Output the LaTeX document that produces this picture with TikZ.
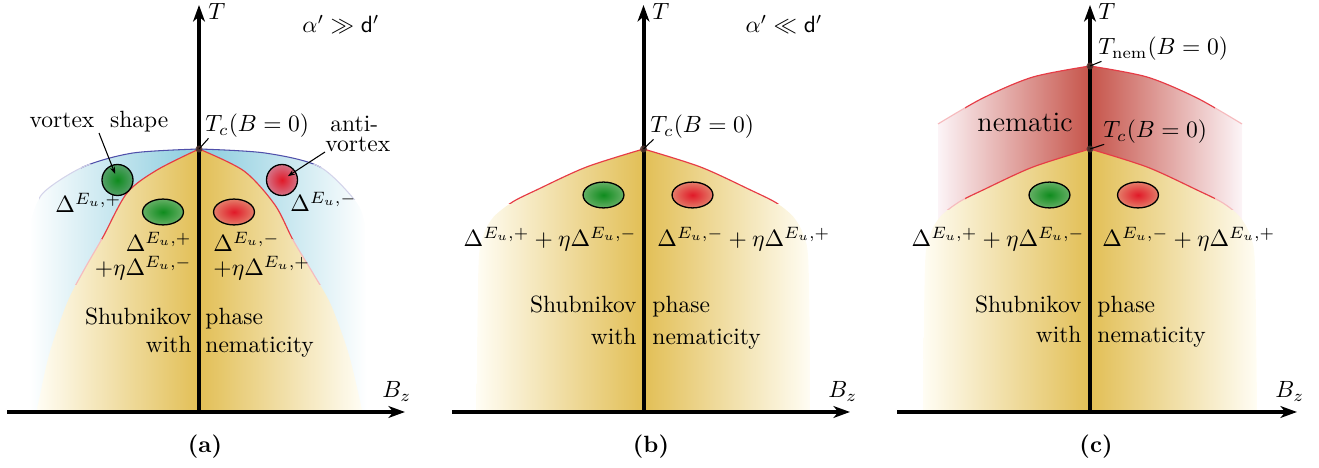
\documentclass[tikz,border=0pt]{standalone}
\usetikzlibrary{arrows.meta,shapes.geometric}
\definecolor{gold}{RGB}{226,191,86}
\definecolor{cream}{RGB}{255,253,244}
\definecolor{skyb}{RGB}{138,204,222}
\definecolor{nemred}{RGB}{198,84,74}
\definecolor{nempale}{RGB}{252,244,247}
\definecolor{edgered}{RGB}{230,60,70}
\definecolor{blueline}{RGB}{80,80,170}
\definecolor{gin}{RGB}{15,140,30}
\definecolor{gout}{RGB}{100,175,100}
\definecolor{rin}{RGB}{225,25,40}
\definecolor{rout}{RGB}{228,125,105}
\definecolor{vgout}{RGB}{85,160,105}
\definecolor{vrout}{RGB}{212,115,135}
\definecolor{dotcol}{RGB}{80,50,45}
\begin{document}
\begin{tikzpicture}[x=0.4255pt,y=-0.4255pt,
  every node/.style={inner sep=0pt},
  axisarrow/.style={line width=1.7pt,-{Stealth[length=7pt,width=5pt,inset=2pt]}},
  leaderline/.style={line width=0.45pt},
  pointer/.style={line width=0.45pt,-{Stealth[length=3pt,width=2.2pt]}},
  tdot/.style={circle,fill=dotcol,fill opacity=.85,minimum size=3pt},
  gell/.style={ellipse,draw=black,line width=0.55pt,inner color=gin,outer color=gout,minimum width=17.4pt,minimum height=11pt},
  rell/.style={ellipse,draw=black,line width=0.55pt,inner color=rin,outer color=rout,minimum width=17.4pt,minimum height=11pt},
  gvort/.style={circle,draw=black,line width=0.55pt,inner color=gin,outer color=vgout,minimum size=13.2pt},
  rvort/.style={circle,draw=black,line width=0.55pt,inner color=rin,outer color=vrout,minimum size=13.2pt},
  redge/.style={draw=edgered,line width=0.5pt},
  fedge/.style={draw=edgered!35,line width=0.5pt},
  capt/.style={font=\bfseries}]
\useasboundingbox (0,0) rectangle (1319,468);

% ===================== panel (a) =====================
\begin{scope}[shift={(199,0)}]
  \shade[left color=white,right color=skyb] plot[smooth] coordinates {(0,149)(-66,153)(-116,167)(-156,193)(-168,220)} -- (-170,410) -- (0,410) -- cycle;
  \shade[left color=skyb,right color=white] plot[smooth] coordinates {(0,149)(66,153)(121,167)(158,203)(166,225)} -- (168,410) -- (0,410) -- cycle;
  \shade[left color=cream,right color=gold] plot[smooth] coordinates {(0,149)(-42,170)(-72,193)(-96,237)(-115,270)(-132,303)(-150,355)(-162,410)} -- (0,410) -- cycle;
  \shade[left color=gold,right color=cream] plot[smooth] coordinates {(0,149)(45,171)(76,205)(94,240)(115,275)(132,305)(150,355)(163,410)} -- (0,410) -- cycle;
  \begin{scope}
    \clip (-200,140) rectangle (200,240);
    \draw[redge] plot[smooth] coordinates {(0,149)(-42,170)(-72,193)(-96,237)(-115,270)(-132,303)(-150,355)(-162,410)};
    \draw[redge] plot[smooth] coordinates {(0,149)(45,171)(76,205)(94,240)(115,275)(132,305)(150,355)(163,410)};
  \end{scope}
  \begin{scope}
    \clip (-200,240) rectangle (200,285);
    \draw[fedge] plot[smooth] coordinates {(0,149)(-42,170)(-72,193)(-96,237)(-115,270)(-132,303)(-150,355)(-162,410)};
    \draw[fedge] plot[smooth] coordinates {(0,149)(45,171)(76,205)(94,240)(115,275)(132,305)(150,355)(163,410)};
  \end{scope}
  \begin{scope}
    \clip (-118,140) rectangle (122,170);
    \draw[blueline,line width=0.45pt] plot[smooth] coordinates {(0,149)(-66,153)(-116,167)(-156,193)(-168,220)};
    \draw[blueline,line width=0.45pt] plot[smooth] coordinates {(0,149)(66,153)(121,167)(158,203)(166,225)};
  \end{scope}
  \begin{scope}
    \clip (-160,165) rectangle (160,200);
    \draw[blueline!25,line width=0.45pt] plot[smooth] coordinates {(0,149)(-66,153)(-116,167)(-156,193)(-168,220)};
    \draw[blueline!25,line width=0.45pt] plot[smooth] coordinates {(0,149)(66,153)(121,167)(158,203)(166,225)};
  \end{scope}
  \node[gell] (ga) at (-36,212) {};
  \node[rell] (ra) at (35,212) {};
  \node[gvort] (gv) at (-81.5,180) {};
  \node[rvort] (rv) at (83,180) {};
  \coordinate (ax1) at (-192,412); \coordinate (ax2) at (206,412);
  \coordinate (ay1) at (0,412); \coordinate (ay2) at (0,5);
  \draw[axisarrow] (ax1) -- (ax2);
  \draw[axisarrow] (ay1) -- (ay2);
  \node[tdot] (tca) at (0,149) {};
  \node[anchor=base west] (Ta) at (9,20) {$T$};
  \node[anchor=base west] (Ba) at (183,398) {$B_z$};
  \node[anchor=base] (ala) at (142,33) {$\alpha'\gg\mathsf{d}'$};
  \node[anchor=base west] (tcla) at (6,132) {$T_c(B=0)$};
  \draw[leaderline] (tca.center) -- ([xshift=1.5pt]tcla.south west);
  \node[anchor=base] (vs) at (-100,128) {vortex\ \ shape};
  \draw[pointer,shorten >=2.8pt] (vs.south) -- (gv.center);
  \node[anchor=base west] (anti) at (131,132) {anti-};
  \node[anchor=base west] (avx) at (126,152) {vortex};
  \draw[pointer,shorten >=3pt] (avx.base west) -- (rv.center);
  \node[anchor=base west] (dpa) at (-144,213) {$\Delta^{E_u,+}$};
  \node[anchor=base west] (dma) at (91,212) {$\Delta^{E_u,-}$};
  \node[anchor=base east] (l1a) at (-7,252) {$\Delta^{E_u,+}$};
  \node[anchor=base east] (l2a) at (-7,276) {$+\eta\Delta^{E_u,-}$};
  \node[anchor=base west] (r1a) at (14,252) {$\Delta^{E_u,-}$};
  \node[anchor=base west] (r2a) at (14,276) {$+\eta\Delta^{E_u,+}$};
  \node[anchor=base east] (sha) at (-7,325) {Shubnikov};
  \node[anchor=base east] (wia) at (-7,353) {with};
  \node[anchor=base west] (pha) at (6,325) {phase};
  \node[anchor=base west] (nea) at (6,353) {nematicity};
  \node[capt] (capa) at (6,447) {(a)};
\end{scope}

% ===================== panel (b) =====================
\begin{scope}[shift={(643.5,0)}]
  \shade[left color=cream,right color=gold] plot[smooth] coordinates {(0,149)(-57,167)(-107,190)(-131,202)(-150,217)(-160,235)(-165,265)(-167,410)} -- (0,410) -- cycle;
  \shade[left color=gold,right color=cream] plot[smooth] coordinates {(0,149)(57,167)(107,190)(133,203)(150,217)(160,235)(165,265)(167,410)} -- (0,410) -- cycle;
  \begin{scope}
    \clip (-200,140) rectangle (200,204);
    \draw[redge] plot[smooth] coordinates {(0,149)(-57,167)(-107,190)(-131,202)(-150,217)(-160,235)(-165,265)(-167,410)};
    \draw[redge] plot[smooth] coordinates {(0,149)(57,167)(107,190)(133,203)(150,217)(160,235)(165,265)(167,410)};
  \end{scope}
  \node[gell] (gb) at (-40,195) {};
  \node[rell] (rb) at (49,195) {};
  \coordinate (bx1) at (-191.5,412); \coordinate (bx2) at (206.5,412);
  \coordinate (by1) at (0,412); \coordinate (by2) at (0,5);
  \draw[axisarrow] (bx1) -- (bx2);
  \draw[axisarrow] (by1) -- (by2);
  \node[tdot] (tcb) at (0,149) {};
  \node[anchor=base west] (Tb) at (8.5,20) {$T$};
  \node[anchor=base west] (Bb) at (184.5,398) {$B_z$};
  \node[anchor=base] (alb) at (140.5,33) {$\alpha'\ll\mathsf{d}'$};
  \node[anchor=base west] (tclb) at (6.5,133) {$T_c(B=0)$};
  \draw[leaderline] (tcb.center) -- ([xshift=1.5pt]tclb.south west);
  \node[anchor=base east] (lb) at (-6.5,247) {$\Delta^{E_u,+}+\eta\Delta^{E_u,-}$};
  \node[anchor=base west] (rbl) at (13.5,247) {$\Delta^{E_u,-}+\eta\Delta^{E_u,+}$};
  \node[anchor=base east] (shb) at (-6.5,313) {Shubnikov};
  \node[anchor=base east] (wib) at (-6.5,345) {with};
  \node[anchor=base west] (phb) at (8.5,313) {phase};
  \node[anchor=base west] (neb) at (8.5,345) {nematicity};
  \node[capt] (capb) at (7.5,447) {(b)};
\end{scope}

% ===================== panel (c) =====================
\begin{scope}[shift={(1090,0)}]
  \shade[left color=nempale,right color=nemred] plot[smooth] coordinates {(0,66)(-57,77)(-107,98)(-152,124)} -- (-152,245) -- (0,245) -- cycle;
  \shade[left color=nemred,right color=nempale] plot[smooth] coordinates {(0,66)(57,77)(107,98)(152,124)} -- (152,245) -- (0,245) -- cycle;
  \shade[left color=cream,right color=gold] plot[smooth] coordinates {(0,149)(-57,167)(-107,190)(-131,202)(-150,217)(-160,235)(-165,265)(-167,410)} -- (0,410) -- cycle;
  \shade[left color=gold,right color=cream] plot[smooth] coordinates {(0,149)(57,167)(107,190)(133,203)(150,217)(160,235)(165,265)(167,410)} -- (0,410) -- cycle;
  \begin{scope}
    \clip (-125,40) rectangle (125,210);
    \draw[redge] plot[smooth] coordinates {(0,66)(-57,77)(-107,98)(-152,124)};
    \draw[redge] plot[smooth] coordinates {(0,66)(57,77)(107,98)(152,124)};
    \draw[redge] plot[smooth] coordinates {(0,149)(-57,167)(-107,190)(-131,202)(-150,217)(-160,235)(-165,265)(-167,410)};
    \draw[redge] plot[smooth] coordinates {(0,149)(57,167)(107,190)(133,203)(150,217)(160,235)(165,265)(167,410)};
  \end{scope}
  \begin{scope}
    \clip (-200,40) rectangle (-125,210) (125,40) rectangle (200,210);
    \draw[fedge] plot[smooth] coordinates {(0,66)(-57,77)(-107,98)(-152,124)};
    \draw[fedge] plot[smooth] coordinates {(0,66)(57,77)(107,98)(152,124)};
    \draw[fedge] plot[smooth] coordinates {(0,149)(-57,167)(-107,190)(-131,202)(-150,217)(-160,235)(-165,265)(-167,410)};
    \draw[fedge] plot[smooth] coordinates {(0,149)(57,167)(107,190)(133,203)(150,217)(160,235)(165,265)(167,410)};
  \end{scope}
  \node[gell] (gc) at (-40.5,195) {};
  \node[rell] (rc) at (48,195) {};
  \coordinate (cx1) at (-193,412); \coordinate (cx2) at (207,412);
  \coordinate (cy1) at (0,412); \coordinate (cy2) at (0,5);
  \draw[axisarrow] (cx1) -- (cx2);
  \draw[axisarrow] (cy1) -- (cy2);
  \node[tdot] (tnc) at (0,66) {};
  \node[tdot] (tcc) at (0,149) {};
  \node[anchor=base west] (Tc) at (8,20) {$T$};
  \node[anchor=base west] (Bc) at (185,398) {$B_z$};
  \node[anchor=base west] (tnlc) at (8,55) {$T_{\mathrm{nem}}(B=0)$};
  \draw[leaderline] (tnc.center) -- ([xshift=1.5pt]tnlc.south west);
  \node[anchor=base west] (tclc) at (13,138) {$T_c(B=0)$};
  \draw[leaderline] (tcc.center) -- ([xshift=0.5pt]tclc.south west);
  \node[anchor=base,font=\large] (nemc) at (-65,132) {nematic};
  \node[anchor=base east] (lc) at (-5,247) {$\Delta^{E_u,+}+\eta\Delta^{E_u,-}$};
  \node[anchor=base west] (rcl) at (12,247) {$\Delta^{E_u,-}+\eta\Delta^{E_u,+}$};
  \node[anchor=base east] (shc) at (-8,313) {Shubnikov};
  \node[anchor=base east] (wic) at (-8,343) {with};
  \node[anchor=base west] (phc) at (7,313) {phase};
  \node[anchor=base west] (nec) at (7,343) {nematicity};
  \node[capt] (capc) at (6,447) {(c)};
\end{scope}
\end{tikzpicture}
\end{document}
